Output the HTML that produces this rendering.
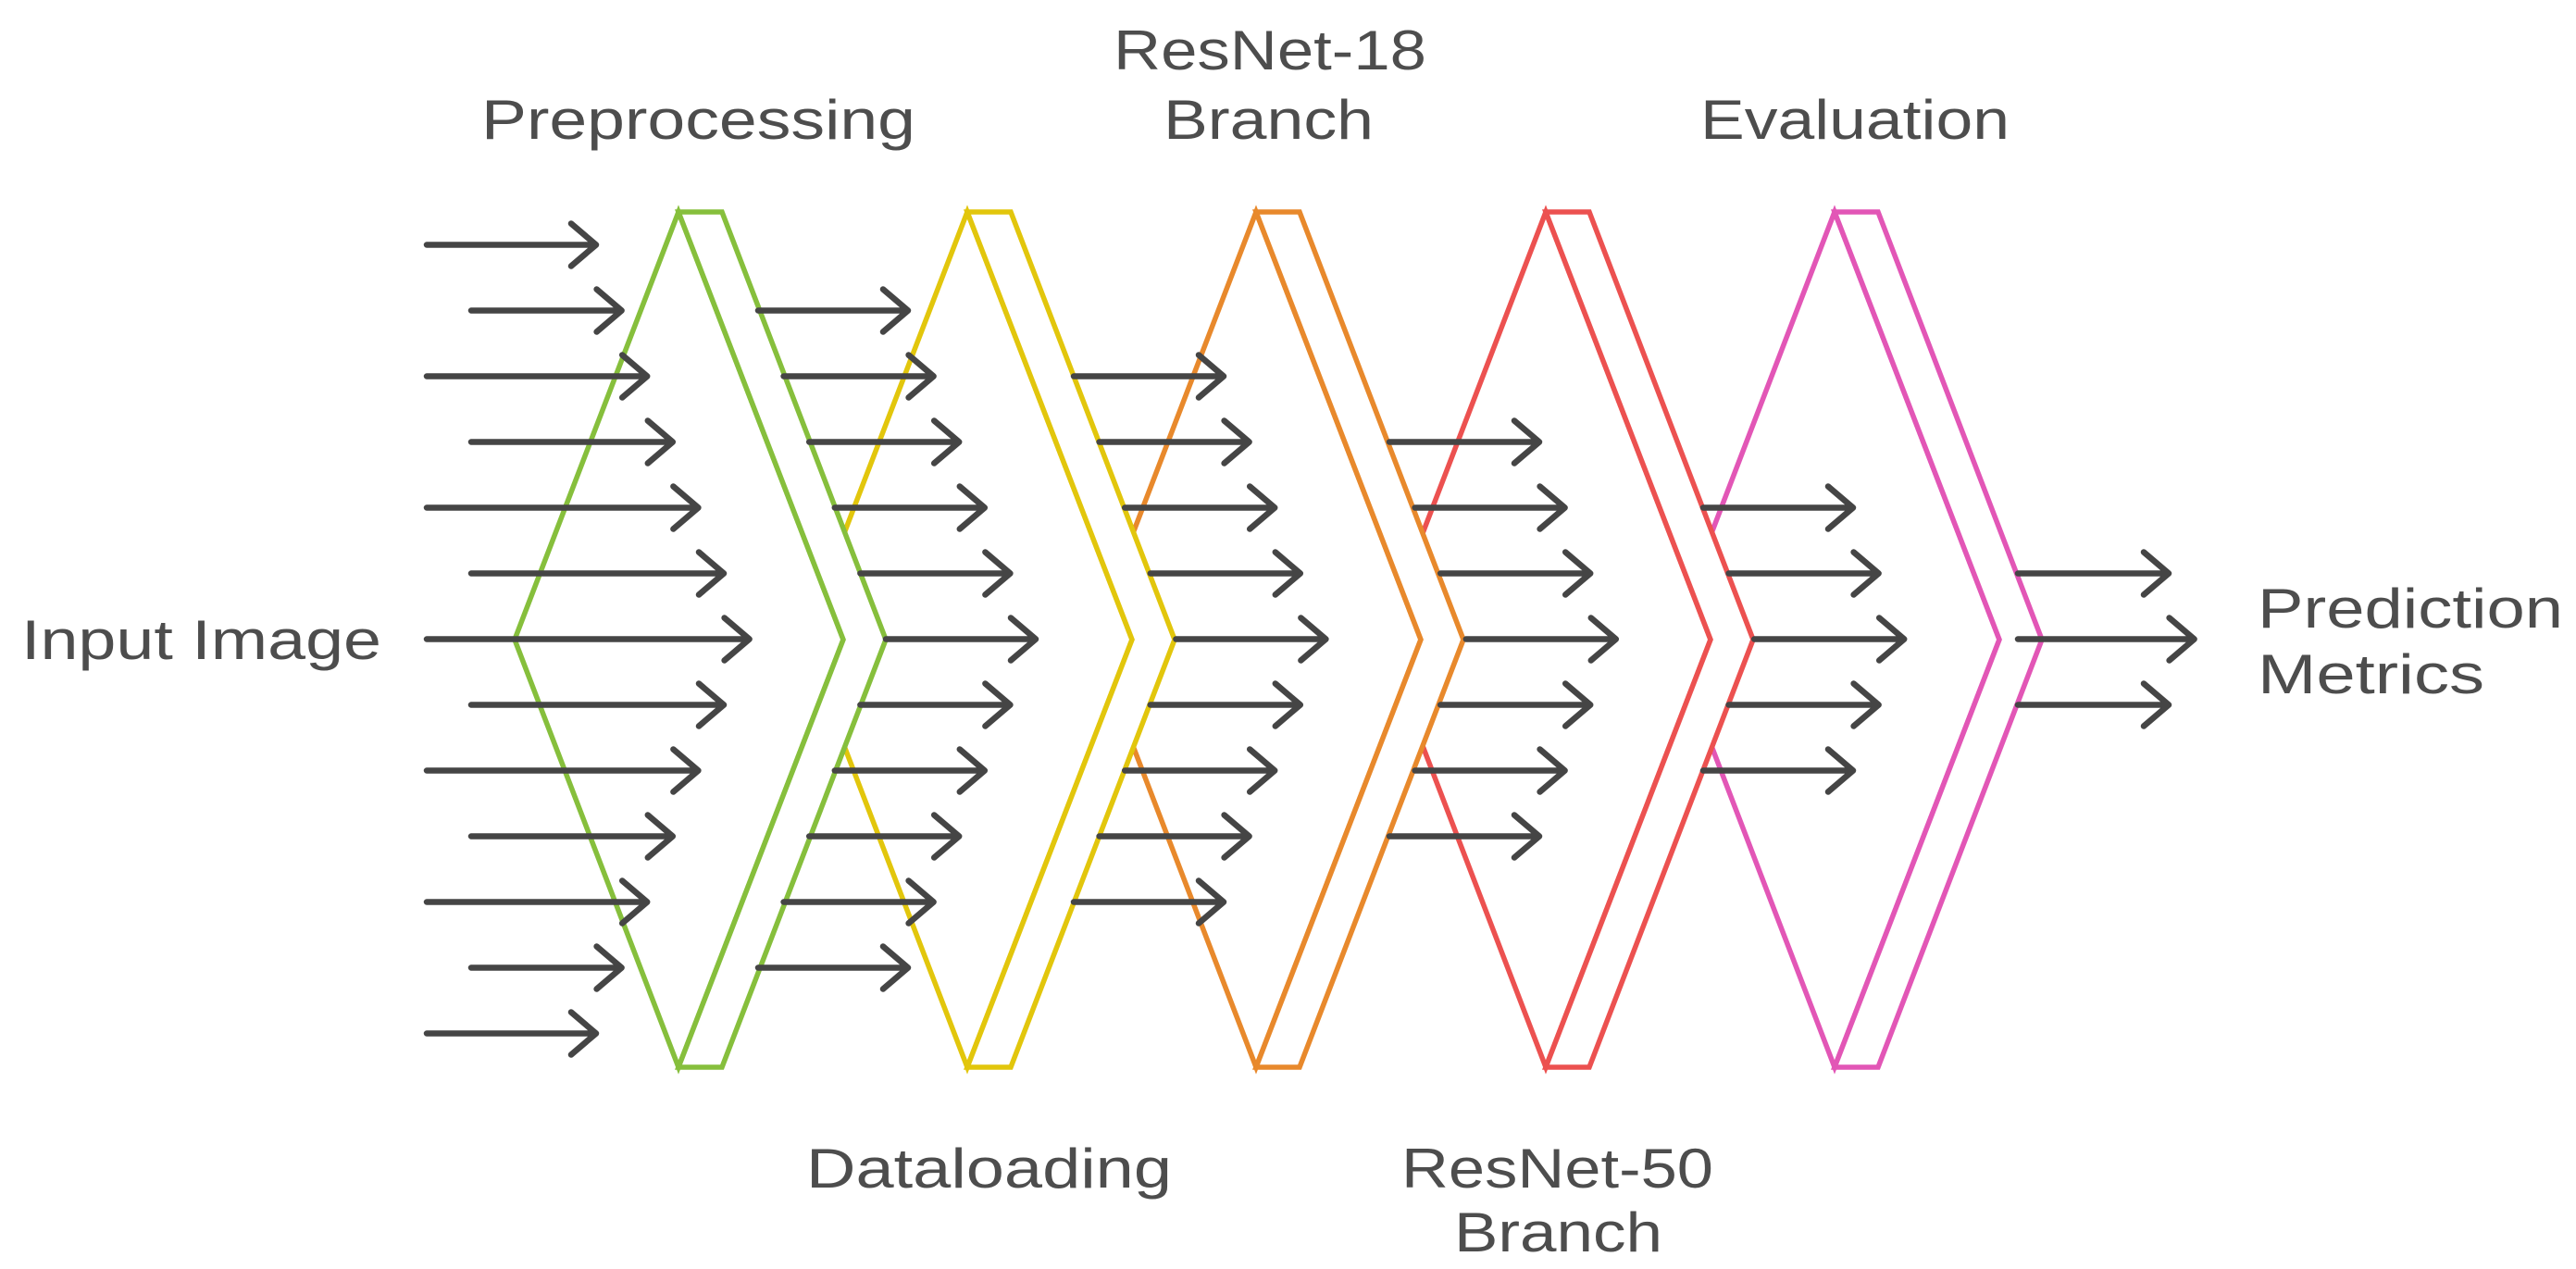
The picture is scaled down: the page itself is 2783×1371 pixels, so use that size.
<!DOCTYPE html>
<html><head><meta charset="utf-8"><style>
html,body{margin:0;padding:0;background:#fff;}
svg{display:block;}
text{font-family:"Liberation Sans",sans-serif;fill:#4d4d4d;font-size:60px;}
</style></head><body>
<svg width="2783" height="1371" viewBox="0 0 2783 1371" xmlns="http://www.w3.org/2000/svg">
<g stroke-width="5.5" fill="#fff" stroke-linejoin="miter">
 <g stroke="#e256b6">
  <polygon points="1982,229 1805,691 1982,1153 2160,691"/>
  <polygon points="1982,229 2029,229 2206,691 2029,1153 1982,1153 2160,691"/>
 </g>
 <g stroke="#ec5150">
  <polygon points="1670,229 1493,691 1670,1153 1848,691"/>
  <polygon points="1670,229 1717,229 1894,691 1717,1153 1670,1153 1848,691"/>
 </g>
 <g stroke="#e8892c">
  <polygon points="1357,229 1180,691 1357,1153 1535,691"/>
  <polygon points="1357,229 1404,229 1581,691 1404,1153 1357,1153 1535,691"/>
 </g>
 <g stroke="#e2c60c">
  <polygon points="1045,229 868,691 1045,1153 1223,691"/>
  <polygon points="1045,229 1092,229 1269,691 1092,1153 1045,1153 1223,691"/>
 </g>
 <g stroke="#86bf3c">
  <polygon points="733,229 556,691 733,1153 911,691"/>
  <polygon points="733,229 780,229 957,691 780,1153 733,1153 911,691"/>
 </g>
</g>
<g stroke="#454545" stroke-width="6.5" fill="none" stroke-linecap="round" stroke-linejoin="round" id="arrows"></g>
<text x="520" y="150" textLength="469" lengthAdjust="spacingAndGlyphs">Preprocessing</text>
<text x="1203" y="75" textLength="338" lengthAdjust="spacingAndGlyphs">ResNet-18</text>
<text x="1257" y="150" textLength="227" lengthAdjust="spacingAndGlyphs">Branch</text>
<text x="1837" y="150" textLength="334" lengthAdjust="spacingAndGlyphs">Evaluation</text>
<text x="23" y="712" textLength="389" lengthAdjust="spacingAndGlyphs">Input Image</text>
<text x="2439" y="678" textLength="330" lengthAdjust="spacingAndGlyphs">Prediction</text>
<text x="2439" y="749" textLength="245" lengthAdjust="spacingAndGlyphs">Metrics</text>
<text x="871" y="1283" textLength="395" lengthAdjust="spacingAndGlyphs">Dataloading</text>
<text x="1514" y="1283" textLength="337" lengthAdjust="spacingAndGlyphs">ResNet-50</text>
<text x="1571" y="1352" textLength="225" lengthAdjust="spacingAndGlyphs">Branch</text>
</svg>
<script>
(function(){
var g=document.getElementById('arrows');var ns='http://www.w3.org/2000/svg';
function arr(x1,x2,y){var p=document.createElementNS(ns,'path');
p.setAttribute('d','M'+x1+' '+y+'H'+x2+'M'+(x2-27)+' '+(y-23)+'L'+x2+' '+y+'L'+(x2-27)+' '+(y+23));g.appendChild(p);}
var y0=264.5,dy=71,d=27.6;
for(var i=0;i<13;i++){var k=6-Math.abs(i-6);var s=(i%2==0)?461:509;arr(s,644+k*d,y0+i*dy);}
for(var i=1;i<=11;i++){var k=5-Math.abs(i-6);var e=981+k*d;arr(e-162,e,y0+i*dy);}
for(var i=2;i<=10;i++){var k=4-Math.abs(i-6);var e=1322+k*d;arr(e-162,e,y0+i*dy);}
for(var i=3;i<=9;i++){var k=3-Math.abs(i-6);var e=1663+k*d;arr(e-162,e,y0+i*dy);}
for(var i=4;i<=8;i++){var k=2-Math.abs(i-6);var e=2002+k*d;arr(e-162,e,y0+i*dy);}
for(var i=5;i<=7;i++){var k=1-Math.abs(i-6);var e=2343+k*d;arr(2180,e,y0+i*dy);}
})();
</script>
</body></html>
